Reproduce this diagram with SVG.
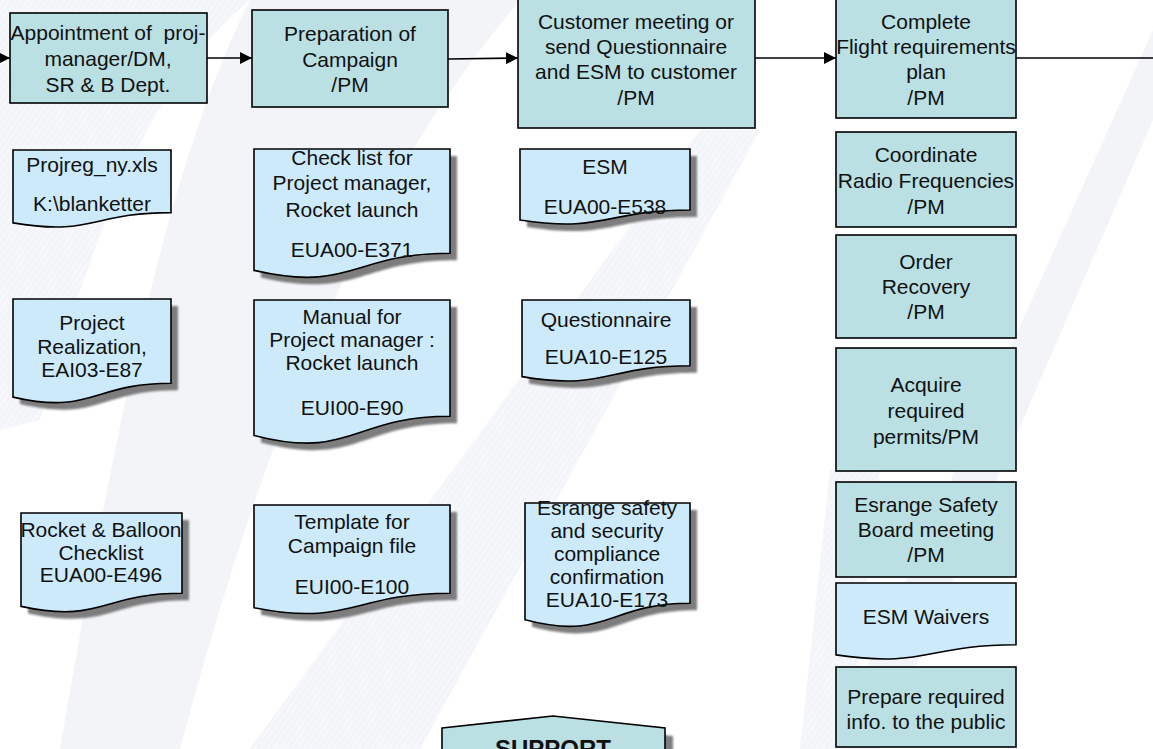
<svg xmlns="http://www.w3.org/2000/svg" width="1153" height="749" viewBox="0 0 1153 749">
  <defs>
    <style>
      .step { fill: #bae0e3; stroke: #000; stroke-width: 1.6; }
      .doc { fill: #cdeafb; stroke: #000; stroke-width: 1.6; }
      .shadow { fill: #7d7d7d; stroke: none; filter: url(#soft); }
      .conn { stroke: #000; stroke-width: 1.6; fill: none; }
      .wm { fill: #f2f4f8; }
      .wm2 { fill: url(#hatch); }
      text { font-family: "Liberation Sans", Arial, sans-serif; font-size: 21px; fill: #111; text-anchor: middle; white-space: pre; }
      .bold { font-weight: bold; font-size: 24px; }
    </style>
    <filter id="soft" x="-10%" y="-10%" width="120%" height="120%">
      <feGaussianBlur stdDeviation="0.8"/>
    </filter>
    <pattern id="hatch" width="5" height="5" patternUnits="userSpaceOnUse" patternTransform="rotate(35)">
      <rect width="5" height="5" fill="#f6f7fa"/>
      <line x1="0" y1="0" x2="0" y2="5" stroke="#eceff5" stroke-width="1.5"/>
    </pattern>
    <marker id="arrow" viewBox="0 0 12 12" refX="12" refY="6" markerWidth="12" markerHeight="12" markerUnits="userSpaceOnUse" orient="auto">
      <path d="M0,0 L12,6 L0,12 z" fill="#000"/>
    </marker>
    <!-- document outlines (flowchart "document" shape) -->
    <path id="d-projreg" d="M13,150 H171 V212.6 C92,212.6 92,236.4 13,222.9 Z"/>
    <path id="d-checklist" d="M254,149 H450 V253.3 C352,253.3 352,293 254,270.4 Z"/>
    <path id="d-esm" d="M520,149 H690 V210 C605,210 605,233.2 520,220 Z"/>
    <path id="d-realization" d="M13,299 H171 V383.2 C92,383.2 92,415.3 13,397.1 Z"/>
    <path id="d-manual" d="M254,300 H450 V416.3 C352,416.3 352,460.6 254,435.4 Z"/>
    <path id="d-questionnaire" d="M522,300 H690 V365.8 C606,365.8 606,390.8 522,376.6 Z"/>
    <path id="d-rocket" d="M21,513 H182 V593.2 C101.5,593.2 101.5,623.8 21,606.4 Z"/>
    <path id="d-template" d="M254,505 H450 V593.2 C352,593.2 352,626.8 254,607.7 Z"/>
    <path id="d-safety" d="M525,503 H690 V603.3 C607.5,603.3 607.5,641.4 525,619.8 Z"/>
    <path id="d-waivers" d="M836,583 H1016 V644.8 C926,644.8 926,668.3 836,654.9 Z"/>
    <polygon id="d-support" points="442,728 553,716 665,728 665,770 442,770"/>
  </defs>

  <!-- faint watermark in the background -->
  <g id="background">
    <rect width="1153" height="749" fill="#ffffff"/>
    <path class="wm2" d="M0,0 H250 C180,60 120,140 40,420 L0,430 Z"/>
    <path class="wm" d="M250,0 H520 C420,120 300,300 180,749 H60 C120,400 170,160 250,0 Z"/>
    <path class="wm2" d="M700,130 L760,130 L420,749 L250,749 Z"/>
    <path class="wm" d="M1153,30 L1153,120 L880,749 L830,749 Z"/>
    <path class="wm2" d="M830,470 L880,470 L850,749 L800,749 Z"/>
  </g>

  <!-- connectors -->
  <g id="connectors">
    <line class="conn" x1="0" y1="58" x2="10" y2="58" marker-end="url(#arrow)"/>
    <line class="conn" x1="207" y1="58" x2="252" y2="58" marker-end="url(#arrow)"/>
    <line class="conn" x1="448" y1="59" x2="518" y2="58" marker-end="url(#arrow)"/>
    <line class="conn" x1="755" y1="58" x2="836" y2="58" marker-end="url(#arrow)"/>
    <line class="conn" x1="1016" y1="58" x2="1153" y2="58"/>
  </g>

  <!-- process steps -->
  <g id="appointment">
    <rect class="step" x="10" y="13" width="197" height="90"/>
    <text x="108" y="40">Appointment of  proj-</text>
    <text x="108" y="66">manager/DM,</text>
    <text x="108" y="92">SR &amp; B Dept.</text>
  </g>
  <g id="preparation">
    <rect class="step" x="252" y="10" width="196" height="97"/>
    <text x="350" y="41">Preparation of</text>
    <text x="350" y="67">Campaign</text>
    <text x="350" y="92">/PM</text>
  </g>
  <g id="customer-meeting">
    <rect class="step" x="518" y="-2" width="237" height="130"/>
    <text x="636" y="29">Customer meeting or</text>
    <text x="636" y="54">send Questionnaire</text>
    <text x="636" y="79">and ESM to customer</text>
    <text x="636" y="105">/PM</text>
  </g>
  <g id="flight-requirements">
    <rect class="step" x="836" y="-2" width="180" height="120"/>
    <text x="926" y="29">Complete</text>
    <text x="926" y="54">Flight requirements</text>
    <text x="926" y="79">plan</text>
    <text x="926" y="105">/PM</text>
  </g>
  <g id="radio-frequencies">
    <rect class="step" x="836" y="132" width="180" height="95"/>
    <text x="926" y="162">Coordinate</text>
    <text x="926" y="188">Radio Frequencies</text>
    <text x="926" y="214">/PM</text>
  </g>
  <g id="order-recovery">
    <rect class="step" x="836" y="235" width="180" height="103"/>
    <text x="926" y="269">Order</text>
    <text x="926" y="294">Recovery</text>
    <text x="926" y="319">/PM</text>
  </g>
  <g id="permits">
    <rect class="step" x="836" y="348" width="180" height="123"/>
    <text x="926" y="392">Acquire</text>
    <text x="926" y="418">required</text>
    <text x="926" y="444">permits/PM</text>
  </g>
  <g id="safety-board">
    <rect class="step" x="836" y="482" width="180" height="95"/>
    <text x="926" y="512">Esrange Safety</text>
    <text x="926" y="537">Board meeting</text>
    <text x="926" y="562">/PM</text>
  </g>
  <g id="public-info">
    <rect class="step" x="836" y="667" width="180" height="80"/>
    <text x="926" y="704">Prepare required</text>
    <text x="926" y="729">info. to the public</text>
  </g>

  <!-- documents -->
  <g id="projreg">
    <use href="#d-projreg" class="doc"/>
    <text x="92" y="172">Projreg_ny.xls</text>
    <text x="92" y="211">K:\blanketter</text>
  </g>
  <g id="checklist-pm">
    <use href="#d-checklist" class="shadow" transform="translate(7,7)"/>
    <use href="#d-checklist" class="doc"/>
    <text x="352" y="165">Check list for</text>
    <text x="352" y="190">Project manager,</text>
    <text x="352" y="217">Rocket launch</text>
    <text x="352" y="257">EUA00-E371</text>
  </g>
  <g id="esm">
    <use href="#d-esm" class="shadow" transform="translate(7,7)"/>
    <use href="#d-esm" class="doc"/>
    <text x="605" y="174">ESM</text>
    <text x="605" y="214">EUA00-E538</text>
  </g>
  <g id="project-realization">
    <use href="#d-realization" class="shadow" transform="translate(7,7)"/>
    <use href="#d-realization" class="doc"/>
    <text x="92" y="330">Project</text>
    <text x="92" y="354">Realization,</text>
    <text x="92" y="377">EAI03-E87</text>
  </g>
  <g id="manual-pm">
    <use href="#d-manual" class="shadow" transform="translate(7,7)"/>
    <use href="#d-manual" class="doc"/>
    <text x="352" y="324">Manual for</text>
    <text x="352" y="347">Project manager :</text>
    <text x="352" y="370">Rocket launch</text>
    <text x="352" y="415">EUI00-E90</text>
  </g>
  <g id="questionnaire">
    <use href="#d-questionnaire" class="shadow" transform="translate(7,7)"/>
    <use href="#d-questionnaire" class="doc"/>
    <text x="606" y="327">Questionnaire</text>
    <text x="606" y="364">EUA10-E125</text>
  </g>
  <g id="rocket-balloon">
    <use href="#d-rocket" class="shadow" transform="translate(7,7)"/>
    <use href="#d-rocket" class="doc"/>
    <text x="101" y="537">Rocket &amp; Balloon</text>
    <text x="101" y="560">Checklist</text>
    <text x="101" y="582">EUA00-E496</text>
  </g>
  <g id="campaign-template">
    <use href="#d-template" class="shadow" transform="translate(7,7)"/>
    <use href="#d-template" class="doc"/>
    <text x="352" y="529">Template for</text>
    <text x="352" y="553">Campaign file</text>
    <text x="352" y="594">EUI00-E100</text>
  </g>
  <g id="safety-compliance">
    <use href="#d-safety" class="shadow" transform="translate(7,7)"/>
    <use href="#d-safety" class="doc"/>
    <text x="607" y="515">Esrange safety</text>
    <text x="607" y="538">and security</text>
    <text x="607" y="561">compliance</text>
    <text x="607" y="584">confirmation</text>
    <text x="607" y="607">EUA10-E173</text>
  </g>
  <g id="esm-waivers">
    <use href="#d-waivers" class="doc"/>
    <text x="926" y="624">ESM Waivers</text>
  </g>

  <!-- support block -->
  <g id="support">
    <use href="#d-support" class="shadow" transform="translate(8,8)"/>
    <use href="#d-support" class="step"/>
    <text class="bold" x="553" y="757">SUPPORT</text>
  </g>
</svg>
